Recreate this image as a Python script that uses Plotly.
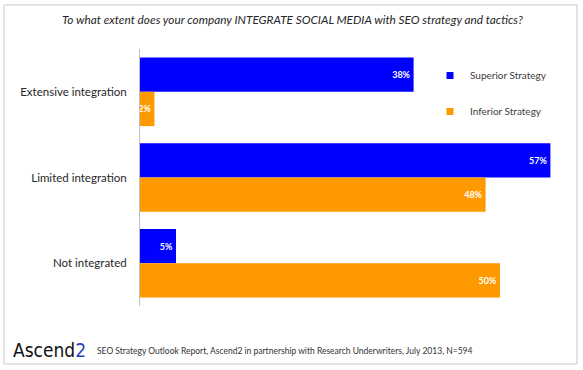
import plotly.graph_objects as go

categories = ["Extensive integration", "Limited integration", "Not integrated"]
superior = [38, 57, 5]
inferior = [2, 48, 50]
series_names = ["Superior Strategy", "Inferior Strategy"]
series_colors = ["#0000FF", "#FF9900"]
title_text = "To what extent does your company INTEGRATE SOCIAL MEDIA with SEO strategy and tactics?"
footnote = "SEO Strategy Outlook Report, Ascend2 in partnership with Research Underwriters, July 2013, N=594"

FONT = "Lato, 'Open Sans', sans-serif"

fig = go.Figure()
for name, vals, col in zip(series_names, [superior, inferior], series_colors):
    fig.add_trace(go.Bar(
        y=categories, x=vals, orientation="h", name=name, showlegend=False,
        marker=dict(color=col, line=dict(width=0)),
        text=[f"<b>{v}%</b>" for v in vals], textposition="inside", insidetextanchor="end",
        textangle=0, constraintext="none",
        textfont=dict(color="white", size=9, family=FONT),
    ))
for name, col in zip(series_names, series_colors):
    fig.add_trace(go.Scatter(
        x=[None], y=[None], mode="markers", name=name, legendgroup=name,
        marker=dict(symbol="square", size=7, color=col),
    ))

fig.update_layout(
    width=583, height=370,
    margin=dict(l=140, r=11, t=49, b=64),
    paper_bgcolor="white", plot_bgcolor="white",
    barmode="group", bargap=0.2, bargroupgap=0,
    font=dict(family=FONT, color="#333333"),
    uniformtext=dict(minsize=8, mode="show"),
    xaxis=dict(range=[0, 60], visible=False, fixedrange=True),
    yaxis=dict(autorange="reversed", showgrid=False, ticks="", showline=True,
               linecolor="#BFBFBF", linewidth=1, ticklabelstandoff=10, fixedrange=True,
               tickfont=dict(size=11.5, color="#262626", family=FONT)),
    legend=dict(x=(430-140)/432, y=(306-61)/257, xanchor="left", yanchor="top",
                font=dict(size=10, color="#404040", family=FONT),
                tracegroupgap=17, itemwidth=30, bgcolor="rgba(0,0,0,0)"),
    showlegend=True,
)

# outer border
fig.add_shape(type="rect", xref="paper", yref="paper",
              x0=-136/432, x1=(577-140)/432, y0=-(364-306)/257, y1=(306-5)/257,
              line=dict(color="#C8C8C8", width=1), fillcolor="rgba(0,0,0,0)", layer="below")

fig.add_annotation(text=f"<i>{title_text}</i>", xref="paper", yref="paper",
                   x=(292-140)/432, y=(306-20)/257, xanchor="center", yanchor="middle",
                   showarrow=False, font=dict(size=11.8, color="#262626", family=FONT))

fig.add_annotation(text="Ascend<span style='color:#1F3FBF'>2</span>", xref="paper", yref="paper",
                   x=(11-140)/432, y=(306-350)/257, xanchor="left", yanchor="middle",
                   showarrow=False, font=dict(size=19, color="#111111", family="'DejaVu Sans Condensed', 'Liberation Sans Narrow', sans-serif"))

fig.add_annotation(text=footnote, xref="paper", yref="paper",
                   x=(95-140)/432, y=(306-351)/257, xanchor="left", yanchor="middle",
                   showarrow=False, font=dict(size=8.5, color="#333333", family=FONT))

fig.write_html("out.html", config={"displayModeBar": False},
               post_script="document.body.style.margin='0';")
